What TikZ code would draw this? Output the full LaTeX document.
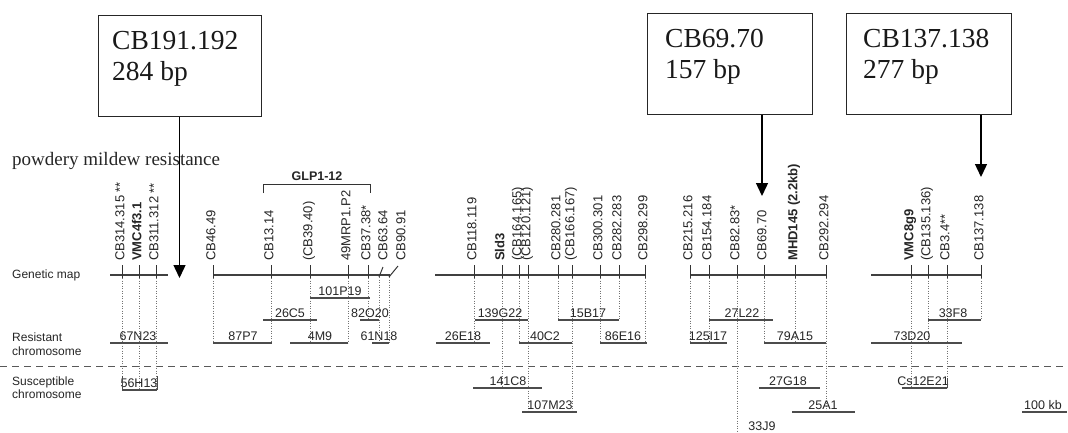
\documentclass[tikz,border=0pt]{standalone}
\usepackage{fontspec}
\setmainfont{Liberation Serif}
\newfontfamily\hv{Liberation Sans}
\usetikzlibrary{arrows.meta}
\begin{document}
\begin{tikzpicture}[x=1pt,y=-1pt,
  hvs/.style={font=\hv\fontsize{12}{14}\selectfont, text=black!85, inner sep=0pt},
  mlab/.style={hvs, font=\hv\fontsize{13}{15}\selectfont, rotate=90, anchor=mid west},
  clab/.style={hvs, font=\hv\fontsize{12.5}{15}\selectfont, anchor=base},
  side/.style={hvs, anchor=base west},
  gmap/.style={draw=black!75, line width=1.3pt},
  tick/.style={draw=black!80, line width=1pt},
  clone/.style={draw=black!70, line width=1.4pt},
  dots/.style={draw=black!55, dotted, line width=0.5pt},
  box/.style={draw=black!85, line width=1pt, inner sep=0pt},
  btxt/.style={font=\fontsize{27.5}{31}\selectfont, anchor=base west, inner sep=0pt, text=black!90},
  conn/.style={draw=black, line width=1.4pt, -{Triangle[length=13pt,width=12pt]}},
]
\path[use as bounding box, fill=white] (0,0) rectangle (1068,432);

% title (cut-off heading)
\node[font=\fontsize{19}{22}\selectfont, anchor=base west, inner sep=0pt, text=black!85] (title) at (12,165) {powdery mildew resistance};

% side labels
\node[side] (gm) at (12,278) {Genetic map};
\node[side] (rc1) at (12,341) {Resistant};
\node[side] (rc2) at (12,355) {chromosome};
\node[side] (sc1) at (12,385) {Susceptible};
\node[side] (sc2) at (12,398) {chromosome};

% dashed separator
\coordinate (dl) at (0,366);
\coordinate (dr) at (1068,366);
\draw[draw=black!65, line width=1pt, dash pattern=on 7pt off 5pt] (dl) -- (dr);

% genetic map segments
\foreach \a/\b [count=\i] in {110/168, 213/390, 435/645, 690/826, 871/981}{
  \coordinate (gL\i) at (\a,275);
  \coordinate (gR\i) at (\b,275);
  \draw[gmap] (gL\i) -- (gR\i);
}

% markers: x / label / end of dotted line
\foreach \x/\t/\e [count=\i] in {
  122/{CB314.315 **}/390, 139/\textbf{VMC4f3.1}/390, 156/{CB311.312 **}/390,
  213/CB46.49/343, 271/CB13.14/343, 310/(CB39.40)/343, 348/49MRP1.P2/343, 368/CB37.38*/320,
  474/CB118.119/343, 502/\textbf{Sld3}/388, 519/(CB164.165)/343, 528/(CB120.121)/412,
  558/CB280.281/320, 572/(CB166.167)/412, 600/CB300.301/343, 619/CB282.283/320, 645/CB298.299/343,
  690/CB215.216/343, 709/CB154.184/343, 737/CB82.83*/432, 764/CB69.70/343,
  795/\textbf{MHD145 (2.2kb)}/343, 826/CB292.294/412,
  911/\textbf{VMC8g9}/388, 928/(CB135.136)/343, 947/CB3.4**/388, 981/CB137.138/320}{
  \coordinate (mt\i) at (\x,265);
  \coordinate (mb\i) at (\x,278);
  \coordinate (me\i) at (\x,\e);
  \draw[tick] (mt\i) -- (mb\i);
  \draw[dots] (mb\i) -- (me\i);
  \node[mlab] (m\i) at (\x,261) {\t};
}

% slanted markers CB63.64 and CB90.91
\coordinate (s1a) at (379,277); \coordinate (s1b) at (383,267);
\coordinate (s2a) at (389,277); \coordinate (s2b) at (398,266);
\draw[tick] (s1a) -- (s1b);
\draw[tick] (s2a) -- (s2b);
\node[mlab] (m63) at (385,261) {CB63.64};
\node[mlab] (m90) at (403,261) {CB90.91};
\coordinate (s1c) at (379,343); \coordinate (s2c) at (389,343);
\draw[dots] (s1a) -- (s1c);
\draw[dots] (s2a) -- (s2c);

% GLP1-12 bracket
\coordinate (g1) at (263,193); \coordinate (g2) at (263,184);
\coordinate (g3) at (370,184); \coordinate (g4) at (370,193);
\draw[draw=black!80, line width=1pt] (g1) -- (g2) -- (g3) -- (g4);
\node[hvs, anchor=base, font=\hv\bfseries\fontsize{12.5}{14}\selectfont] (glp) at (317,180) {GLP1-12};

% clones: x1 / x2 / y / label / label x
\foreach \a/\b/\y/\t/\l [count=\i] in {
  110/168/343/67N23/138, 122/157/390/56H13/139,
  310/370/298/101P19/340, 263/317/320/26C5/290, 360/379/320/82O20/370,
  213/272/343/87P7/243, 290/348/343/4M9/320, 372/389/343/61N18/379,
  475/528/320/139G22/500, 558/619/320/15B17/588, 436/490/343/26E18/463,
  519/572/343/40C2/545, 600/647/343/86E16/623, 473/542/388/141C8/508, 522/577/412/107M23/550,
  709/773/320/27L22/742, 690/727/343/125I17/708, 764/826/343/79A15/795,
  759/820/388/27G18/788, 792/855/412/25A1/823,
  928/981/320/33F8/953, 871/962/343/73D20/912, 902/947/388/Cs12E21/923, 1022/1067/412/100 kb/1043}{
  \coordinate (cL\i) at (\a,\y);
  \coordinate (cR\i) at (\b,\y);
  \draw[clone] (cL\i) -- (cR\i);
  \node[clab] (c\i) at (\l,\y-2.5) {\t};
}
\node[clab] (c33) at (762,430) {33J9};

% small solid ends
\coordinate (u1) at (122,376); \coordinate (u2) at (157,376);
\draw[draw=black!70, line width=0.9pt] (u1) -- (cL2);
\draw[draw=black!70, line width=0.9pt] (u2) -- (cR2);
\coordinate (u3) at (947,378);
\draw[draw=black!70, line width=0.9pt] (u3) -- (cR23);

% boxes
\node[box, minimum width=163pt, minimum height=101pt] (b1) at (179.5,65.5) {};
\node[btxt] (b1a) at (112,49) {CB191.192};
\node[btxt] (b1b) at (112,80) {284 bp};
\node[box, minimum width=165pt, minimum height=101pt] (b2) at (729.5,63.5) {};
\node[btxt] (b2a) at (665,47) {CB69.70};
\node[btxt] (b2b) at (665,78) {157 bp};
\node[box, minimum width=165pt, minimum height=101pt] (b3) at (928.5,63.5) {};
\node[btxt] (b3a) at (863,47) {CB137.138};
\node[btxt] (b3b) at (863,78) {277 bp};

% arrows
\coordinate (a1) at (179.5,278);
\coordinate (a2) at (762,196);
\coordinate (a3) at (981,177);
\draw[conn] (b1.south) -- (a1);
\draw[conn] (b2.south -| a2) -- (a2);
\draw[conn] (b3.south -| a3) -- (a3);
\end{tikzpicture}
\end{document}
